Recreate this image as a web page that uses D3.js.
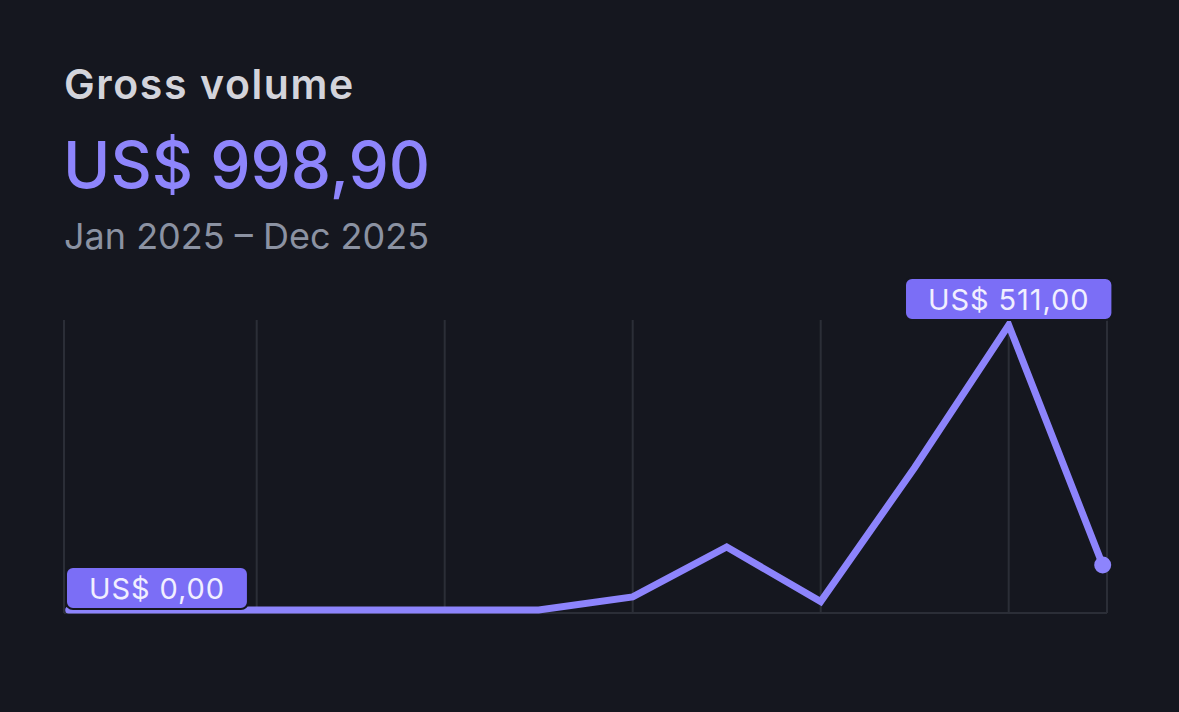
<!DOCTYPE html>
<html>
<head>
<meta charset="utf-8">
<script src="https://cdn.jsdelivr.net/npm/d3@7"></script>
<style>
  html, body { margin: 0; padding: 0; background: #15171f; }
  svg { display: block; }
</style>
</head>
<body>
<svg id="chart" width="1179" height="712"></svg>
<script>
// ---- data ----
const months = ["Jan", "Feb", "Mar", "Apr", "May", "Jun", "Jul", "Aug", "Sep", "Oct", "Nov", "Dec"];
const grossVolume = [0, 0, 0, 0, 0, 0, 23.5, 113, 15.2, 255.5, 511, 80.7];
const gridMonths = ["Mar", "May", "Jul", "Sep", "Nov"];
const titleText = "Gross volume";
const totalText = "US$ 998,90";
const periodText = "Jan 2025 – Dec 2025";
const minLabel = "US$ 0,00";
const maxLabel = "US$ 511,00";

// ---- layout ----
const W = 1179, H = 712;
const plot = { left: 64, right: 1107, top: 320, bottom: 613 };
const bg = "#15171f";
const lineColor = "#8d84fc";
const badgeColor = "#7b6ef6";
const gridColor = "#2b2e37";
const font = "Inter, 'Noto Sans', sans-serif";

const svg = d3.select("#chart");
svg.append("rect").attr("width", W).attr("height", H).attr("fill", bg);

// header texts
svg.append("text").attr("x", 64).attr("y", 99)
  .attr("font-family", font).attr("font-size", 41).attr("font-weight", 600)
  .attr("letter-spacing", 1.6)
  .attr("fill", "#d3d4db").text(titleText);
svg.append("text").attr("x", 63).attr("y", 188)
  .attr("font-family", font).attr("font-size", 64).attr("font-weight", 500)
  .attr("fill", "#8e85fc").text(totalText);
svg.append("text").attr("x", 64).attr("y", 249)
  .attr("font-family", font).attr("font-size", 36).attr("font-weight", 400)
  .attr("fill", "#8b92a2").text(periodText);

// scales
const x = d3.scalePoint().domain(months).range([68.7, 1102.7]);
const y = d3.scaleLinear().domain([0, 511]).range([610, 325]);

// grid
const g = svg.append("g");
const gridX = [plot.left].concat(gridMonths.map(m => x(m))).concat([plot.right]);
g.selectAll("line.v").data(gridX).join("line")
  .attr("x1", d => d).attr("x2", d => d)
  .attr("y1", plot.top).attr("y2", plot.bottom)
  .attr("stroke", gridColor).attr("stroke-width", 2);
g.append("line")
  .attr("x1", plot.left).attr("x2", plot.right)
  .attr("y1", plot.bottom).attr("y2", plot.bottom)
  .attr("stroke", gridColor).attr("stroke-width", 2);

// line
const data = months.map((m, i) => ({ m, v: grossVolume[i] }));
const line = d3.line().x(d => x(d.m)).y(d => y(d.v));
svg.append("path").datum(data)
  .attr("d", line)
  .attr("fill", "none")
  .attr("stroke", lineColor)
  .attr("stroke-width", 7)
  .attr("stroke-linejoin", "miter")
  .attr("stroke-linecap", "round");

// end dot
const last = data[data.length - 1];
svg.append("circle").attr("cx", x(last.m)).attr("cy", y(last.v)).attr("r", 8.5)
  .attr("fill", lineColor);

// badges
function badge(text, cx, bottom, clampLeft) {
  const grp = svg.append("g");
  const t = grp.append("text")
    .attr("font-family", font).attr("font-size", 29).attr("font-weight", 400)
    .attr("letter-spacing", 0.9)
    .attr("fill", "#f1efff").attr("text-anchor", "middle").text(text);
  const tw = t.node().getComputedTextLength();
  const bw = tw + 46, bh = 42;
  let left = cx - bw / 2;
  if (clampLeft !== undefined && left < clampLeft) left = clampLeft;
  const top = bottom - bh;
  grp.insert("rect", "text")
    .attr("x", left).attr("y", top).attr("width", bw).attr("height", bh)
    .attr("rx", 7).attr("fill", badgeColor)
    .attr("stroke", bg).attr("stroke-width", 2);
  t.attr("x", left + bw / 2).attr("y", top + bh / 2 + 10.5);
}
const minIdx = grossVolume.indexOf(d3.min(grossVolume));
const maxIdx = grossVolume.indexOf(d3.max(grossVolume));
badge(minLabel, x(months[minIdx]), y(grossVolume[minIdx]) - 1, 66);
badge(maxLabel, x(months[maxIdx]), y(grossVolume[maxIdx]) - 5);
</script>
</body>
</html>
